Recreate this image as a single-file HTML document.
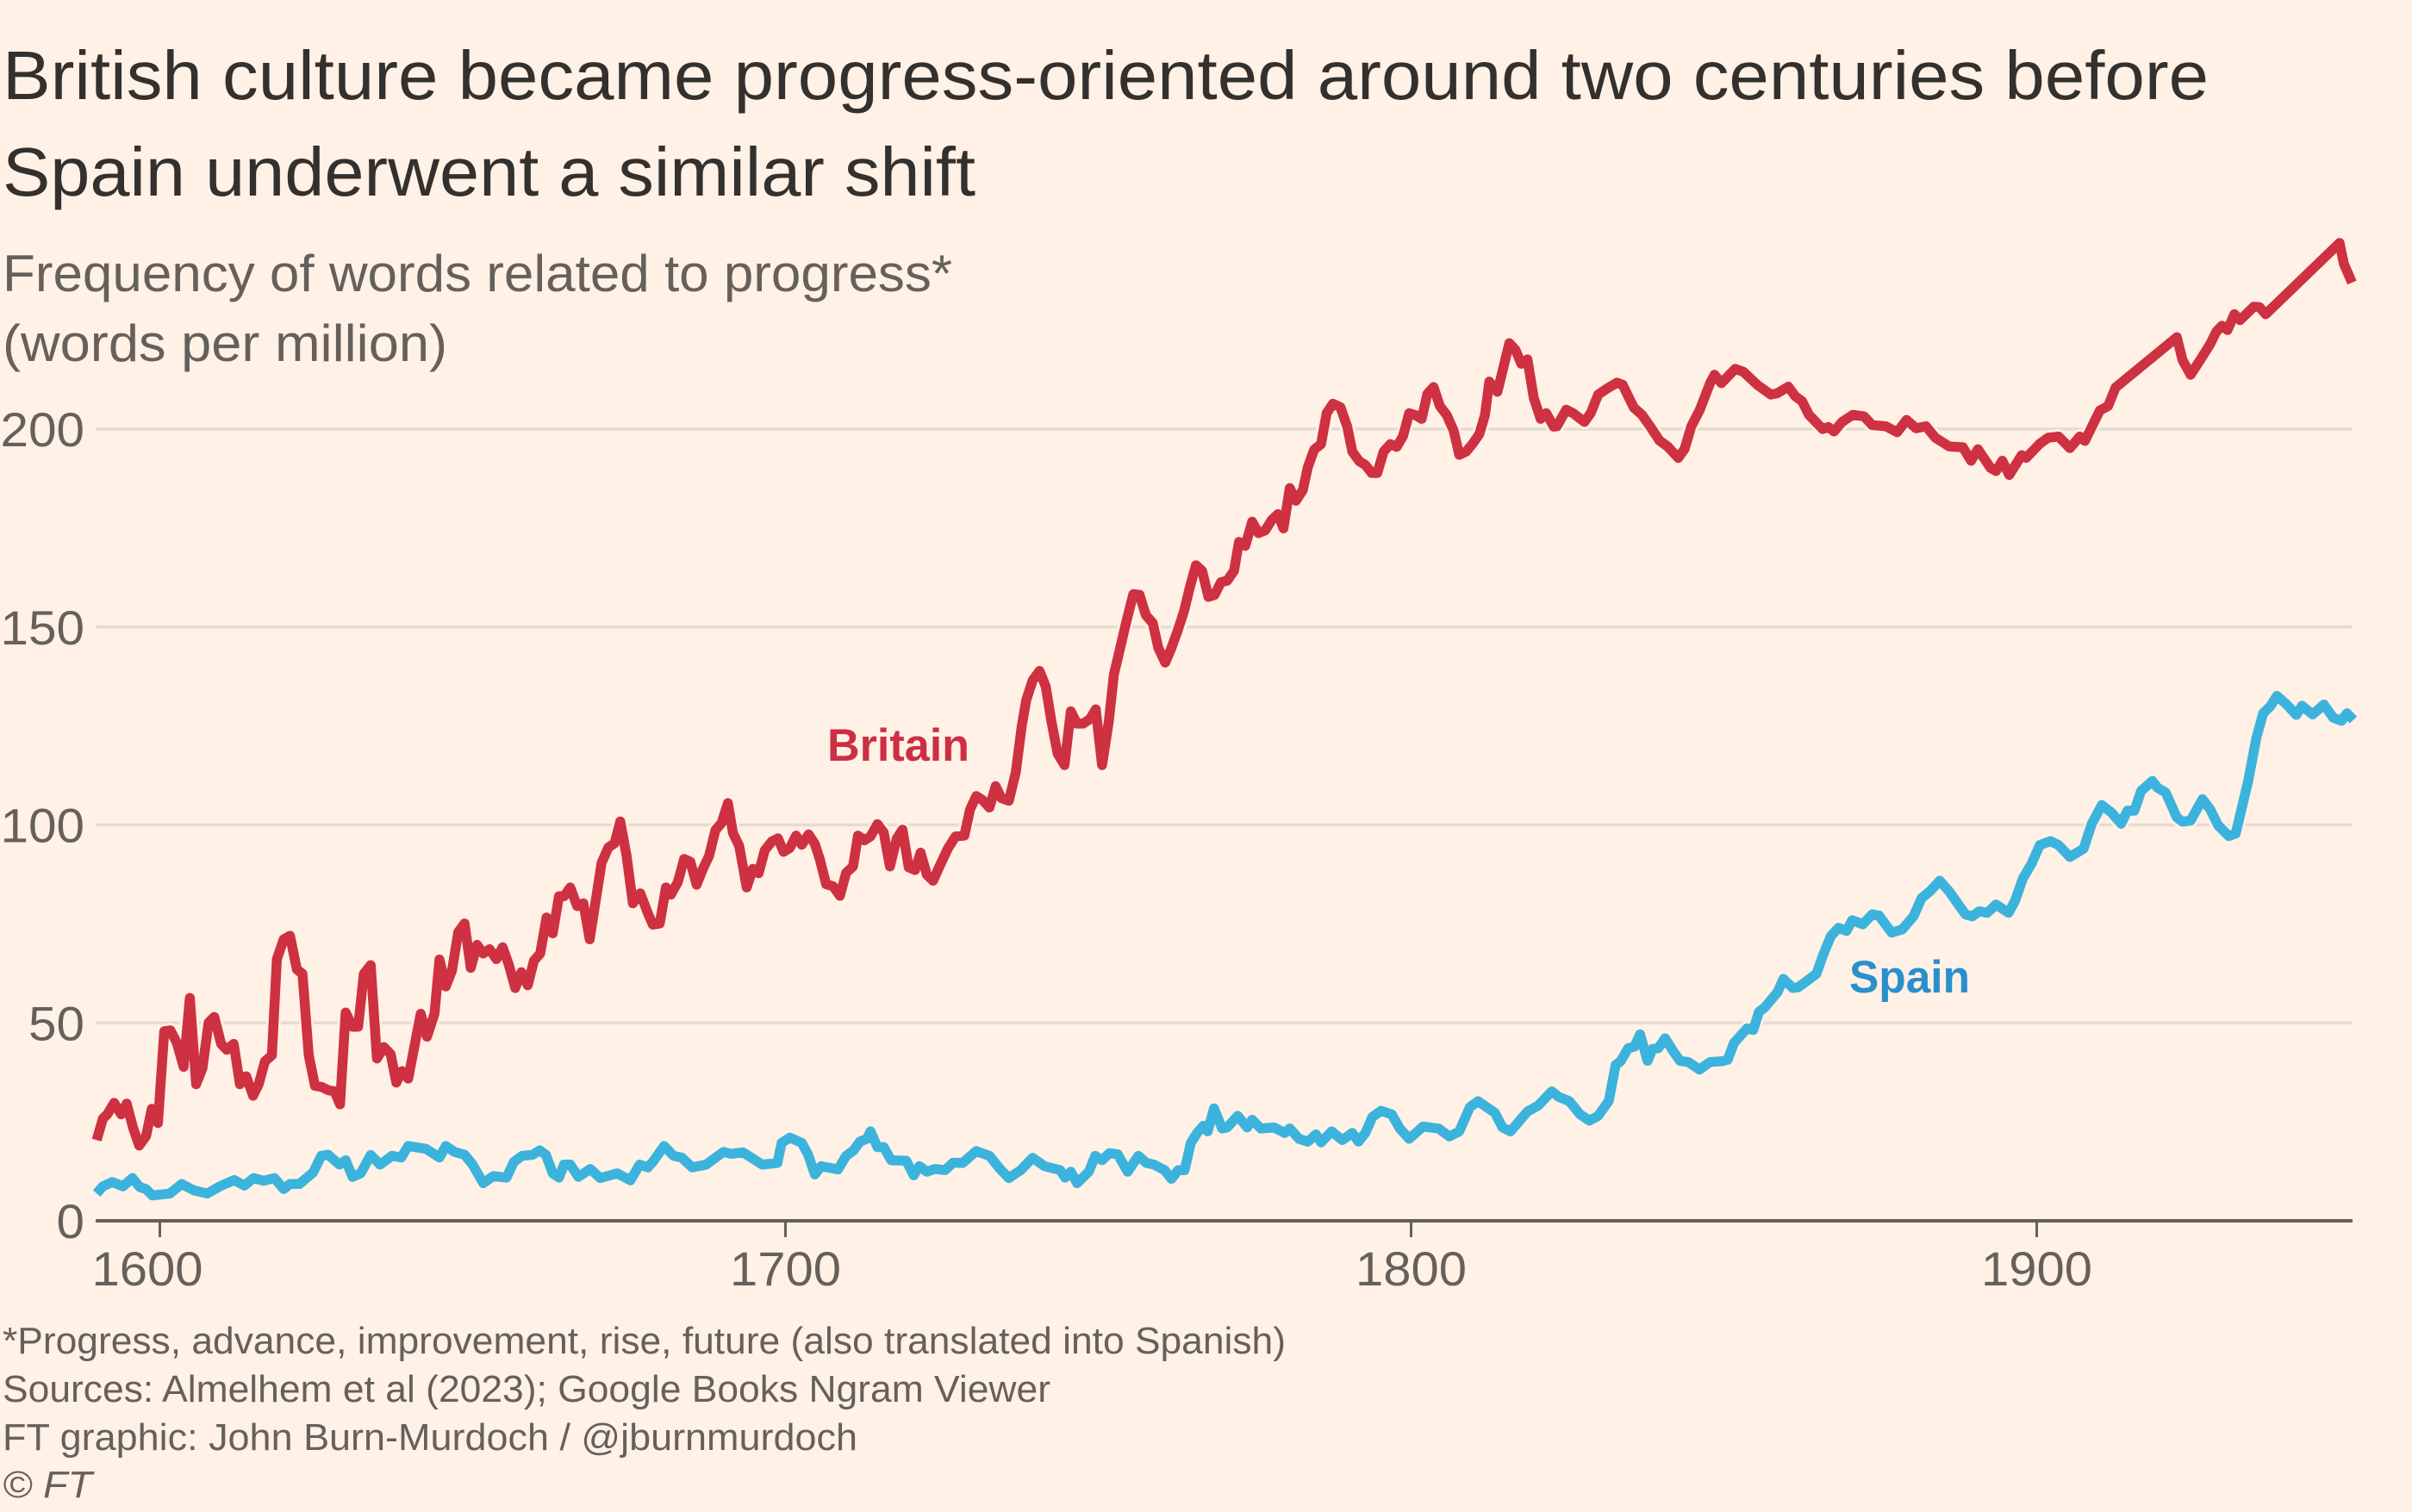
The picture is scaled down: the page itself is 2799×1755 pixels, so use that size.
<!DOCTYPE html>
<html lang="en">
<head>
<meta charset="utf-8">
<title>British culture became progress-oriented</title>
<style>
html,body{margin:0;padding:0;background:#fff1e5;}
svg{display:block;}
text{font-family:"Liberation Sans",sans-serif;}
</style>
</head>
<body>
<svg id="chart" xmlns="http://www.w3.org/2000/svg" width="2799" height="1755" viewBox="0 0 2799 1755">
  <rect x="0" y="0" width="2799" height="1755" fill="#fff1e5"/>
  <text x="3" y="115" font-size="80" fill="#33302e" textLength="2560" lengthAdjust="spacingAndGlyphs">British culture became progress-oriented around two centuries before</text>
  <text x="3" y="227" font-size="80" fill="#33302e" textLength="1129" lengthAdjust="spacingAndGlyphs">Spain underwent a similar shift</text>
  <text x="3" y="338" font-size="60" fill="#66605c" textLength="1102" lengthAdjust="spacingAndGlyphs">Frequency of words related to progress*</text>
  <text x="3" y="419" font-size="60" fill="#66605c" textLength="516" lengthAdjust="spacingAndGlyphs">(words per million)</text>
  <g id="grid"></g>
  <g id="yLabels"></g>
  <g id="series"></g>
  <g id="xAxis"></g>
  <text x="960" y="883" font-size="53" font-weight="bold" fill="#cc2f43" textLength="165" lengthAdjust="spacingAndGlyphs">Britain</text>
  <text x="2146" y="1152" font-size="53" font-weight="bold" fill="#2a8fcd" textLength="140" lengthAdjust="spacingAndGlyphs">Spain</text>
  <text x="3" y="1571" font-size="44" fill="#66605c" textLength="1489" lengthAdjust="spacingAndGlyphs">*Progress, advance, improvement, rise, future (also translated into Spanish)</text>
  <text x="3" y="1627" font-size="44" fill="#66605c" textLength="1216" lengthAdjust="spacingAndGlyphs">Sources: Almelhem et al (2023); Google Books Ngram Viewer</text>
  <text x="3" y="1683" font-size="44" fill="#66605c" textLength="992" lengthAdjust="spacingAndGlyphs">FT graphic: John Burn-Murdoch / @jburnmurdoch</text>
  <text x="3" y="1738" font-size="44" font-style="italic" fill="#66605c" textLength="104" lengthAdjust="spacingAndGlyphs">© FT</text>
</svg>
<script>
const yTickValues = [0, 50, 100, 150, 200];
const yTickLabels = ["0", "50", "100", "150", "200"];
const xTickValues = [1600, 1700, 1800, 1900];
const xTickLabels = ["1600", "1700", "1800", "1900"];

const britainYears = [
1589.9,1590.9,1591.6,1592.7,1593.8,1594.7,1595.7,1596.7,1597.8,1598.7,
1599.7,1600.7,1601.7,1602.7,1603.8,1604.8,1605.8,1606.8,1607.8,1608.7,
1609.8,1610.7,1611.8,1612.8,1613.8,1614.9,1615.8,1616.8,1617.9,1618.7,
1619.8,1620.8,1621.9,1622.8,1623.8,1624.8,1625.9,1626.9,1627.9,1628.8,
1629.7,1630.8,1631.7,1632.6,1633.7,1634.7,1635.8,1636.9,1637.8,1638.7,
1639.7,1641.7,1642.7,1643.9,1644.7,1645.7,1646.7,1647.7,1648.7,1649.7,
1650.7,1651.7,1652.7,1653.8,1654.8,1655.8,1656.8,1657.8,1658.8,1659.8,
1660.8,1661.8,1662.8,1663.8,1664.6,1665.6,1666.7,1667.7,1668.7,1670.6,
1671.7,1672.7,1673.6,1674.6,1675.6,1676.8,1678,1678.8,1679.9,1680.9,
1681.7,1682.8,1683.8,1684.8,1685.8,1686.8,1687.8,1688.8,1689.8,1690.8,
1691.6,1692.6,1693.8,1694.8,1695.7,1696.7,1697.8,1698.8,1699.7,1700.7,
1701.7,1702.6,1703.7,1704.7,1705.5,1706.5,1707.6,1708.7,1709.7,1710.8,
1711.6,1712.6,1713.6,1714.7,1715.7,1716.7,1717.8,1718.7,1719.7,1720.7,
1721.6,1722.6,1723.6,1724.7,1726,1727.2,1728.6,1729.5,1730.5,1731.5,
1732.6,1733.6,1734.5,1735.7,1736.8,1737.8,1738.5,1739.5,1740.6,1741.6,
1742.5,1743.5,1744.6,1745.6,1746.6,1747.6,1748.7,1749.6,1750.6,1751.7,
1752.5,1753.5,1754.5,1755.6,1756.6,1757.6,1758.7,1759.6,1760.7,1761.6,
1762.7,1763.7,1764.6,1765.6,1766.6,1767.6,1768.6,1769.6,1770.6,1771.7,
1772.5,1773.5,1774.6,1775.6,1776.7,1777.7,1778.7,1779.6,1780.6,1781.6,
1782.7,1783.5,1784.5,1785.6,1786.5,1787.5,1788.7,1789.8,1790.6,1791.7,
1792.7,1793.7,1794.6,1795.6,1796.7,1797.7,1798.7,1799.7,1800.7,1801.7,
1802.6,1803.6,1804.6,1805.7,1806.8,1807.7,1808.8,1809.8,1810.9,1811.8,
1812.5,1813.8,1814.7,1815.7,1816.7,1817.6,1818.6,1819.6,1820.7,1821.6,
1822.8,1823.3,1824.8,1825.9,1827.7,1828.7,1829.9,1831.2,1832.9,1833.8,
1835.6,1836.9,1838.2,1839.7,1841,1842.7,1843.7,1844.8,1846.1,1847.8,
1848.5,1849.6,1850.9,1851.8,1853.1,1855.3,1857.5,1858.5,1860.3,1861.4,
1862.5,1863.6,1865.8,1866.7,1867.6,1868.9,1870.6,1872.4,1873.7,1875.9,
1877.7,1879.2,1880.7,1882.3,1883.8,1886,1888.2,1889.5,1890.6,1892.6,
1893.5,1894.5,1895.6,1897.6,1898.3,1900.5,1901.8,1903.5,1905.3,1906.9,
1907.7,1910.1,1911.4,1912.6,1922.4,1923.3,1924.6,1926.4,1927.7,1928.7,
1929.6,1930.5,1931.6,1932.5,1934.7,1935.6,1936.6,1948.4,1949.1,1950.4
];
const britainValues = [
20.4,25.8,26.9,29.8,26.9,29.6,23.6,19,21.4,28.3,
24.7,47.9,48.1,45,38.9,56.3,34.5,38.5,50.1,51.5,
44.7,43.2,44.7,34.5,36.5,31.6,34.5,40.3,41.8,66.1,
71.1,72,63.5,62.4,41.8,34.1,33.8,33,32.7,29.4,
52.6,49,49,62.4,64.6,41,43.9,42.1,34.9,37.8,
35.9,52.3,46.5,52.3,66,59.2,63.2,72.9,75.1,63.9,
69.7,67.5,68.6,66.1,69.1,64.6,58.8,62.8,59.5,65.7,
67.5,76.6,72.6,82,82,84.2,79.5,80.2,71.1,90.4,
94.3,95.4,100.9,92.2,80.2,82.7,77.7,74.8,75.1,84.2,
82.4,85.6,91.4,90.7,84.9,88.9,92.2,98.7,100.5,105.5,
98,94.7,84.2,88.9,87.8,93.6,95.8,96.6,93.2,94.2,
97.3,95,97.6,95.2,91.3,85,84.5,82.1,87.9,89.5,
97.3,96.1,97.1,100.2,98.1,89.5,96.6,98.8,89.3,88.6,
93,87.4,85.9,89.8,94.2,97.1,97.3,103.9,107.3,106.3,
104.4,109.8,106.8,106.1,113.2,125.3,131.6,136.5,138.9,135,
126.3,118,115.1,128.7,125.6,125.6,126.8,129.2,115.1,126.3,
138,144.7,151.5,158.3,158.1,153,151,144.7,141,144.3,
149.1,154,159.8,165.6,164.2,157.6,158.1,161.3,161.7,164.2,
171.5,170.5,176.6,173.7,174.4,177,178.5,174.9,185.1,181.9,
184.6,190.4,194.8,196.2,204,206.4,205.5,200.6,194.3,191.9,
190.9,188.9,188.9,194.3,196.2,195.5,198.2,204,203.5,202.6,
208.9,210.6,205.8,203.5,199.6,193.5,194.3,196.2,198.7,203.5,
212,209.4,215.2,221.7,220,216.5,217.6,207.9,202.6,204,
200.6,200.7,204.9,204,201.8,204,208.7,210.1,211.7,211.2,
205.4,203.6,200.7,197.1,195.6,192.7,194.9,200.7,204.7,211.6,
213.7,211.6,213.7,215.2,214.5,211.2,208.7,209,210.7,208.3,
207,203.6,200,200.5,199.4,201.8,203.6,203.2,201,200.7,
199.2,202.3,200.2,200.7,197.8,195.6,195.4,192,194.9,190.2,
189.4,192,188.4,193.4,192.7,196.3,197.8,198.1,195.2,198.1,
197,204.7,205.8,210.5,223.2,217.4,213.7,218.1,221.4,224.6,
226.1,225,229,227.5,230.9,230.8,229,247,241.7,237
];

const spainYears = [
1589.9,1590.9,1592.4,1594.1,1595.6,1596.8,1597.8,1598.8,1601.6,1603.5,
1605.4,1607.6,1609.6,1611.9,1613.5,1615,1616.6,1618.3,1619.8,1620.8,
1622.3,1624.5,1625.8,1626.9,1628.7,1629.7,1630.8,1632.1,1633.7,1635.2,
1637.1,1638.6,1639.7,1642.5,1644.7,1645.7,1647.1,1648.7,1650,1651.7,
1653.3,1655.4,1656.6,1657.9,1659.6,1660.7,1661.7,1662.8,1663.8,1664.6,
1665.6,1666.9,1668.8,1670.4,1673.1,1675.2,1676.7,1678,1678.8,1680.6,
1682.1,1683.4,1685.1,1687.3,1690.1,1691.3,1693.2,1696.3,1698.7,1699.4,
1700.7,1702.6,1703.6,1704.7,1705.7,1708.4,1709.7,1710.9,1711.9,1713,
1713.6,1714.7,1715.7,1716.9,1719.3,1720.5,1721.4,1722.6,1723.9,1725.5,
1726.8,1728.3,1730.5,1732.6,1734.3,1735.7,1737.6,1739.5,1741.4,1743.9,
1744.7,1745.6,1746.6,1748.5,1749.5,1750.6,1751.8,1753.1,1754.7,1756.4,
1757.7,1758.9,1760.6,1761.7,1762.8,1763.8,1764.8,1765.8,1766.8,1767.5,
1768.5,1769.8,1770.6,1772.3,1773.8,1774.6,1776,1778.1,1779.8,1780.6,
1782.1,1783.5,1784.8,1785.6,1787.3,1789,1790.6,1791.6,1792.7,1793.8,
1795.2,1796.9,1798.2,1799.7,1801.9,1804.4,1806.1,1807.7,1809.4,1810.7,
1813.4,1814.6,1815.9,1818.6,1820.3,1822.5,1823.6,1825.3,1827,1828.5,
1829.9,1831.6,1832.7,1833.5,1834.7,1835.7,1836.6,1837.8,1838.6,1839.5,
1840.6,1841.9,1843,1844.3,1846.1,1847.8,1849.6,1850.6,1851.6,1853.7,
1854.7,1855.6,1856.6,1857.9,1858.6,1859.5,1861,1861.9,1864.8,1865.8,
1867.1,1868.3,1869.6,1870.5,1872.2,1873.7,1874.8,1876.8,1878.5,1880.3,
1881.6,1882.9,1884.5,1886,1887.3,1888.6,1889.7,1890.8,1892.1,1893.5,
1895.5,1896.5,1897.8,1899.2,1900.5,1902.2,1903.5,1905.3,1907.5,1908.8,
1910.4,1911.9,1913.5,1914.5,1915.6,1916.7,1918.5,1919.3,1920.6,1922.4,
1923.3,1924.6,1926.5,1927.7,1929,1930.7,1931.8,1933.8,1935.1,1936.2,
1937.3,1938.4,1939.9,1941.5,1942.4,1944.1,1945.9,1947.4,1948.7,1949.6,
1950.6
];
const spainValues = [
6.9,8.7,9.8,8.7,10.8,8.5,8,6.4,6.9,9.3,
7.7,6.9,8.7,10.3,8.9,10.8,10.1,10.8,8,9.3,
9.3,12.2,16.4,16.7,14.2,15.3,11.1,12,16.6,14.2,
16.4,16,18.9,18.2,16,18.9,17.4,16.7,14.2,9.5,
11.3,10.9,14.9,16.4,16.7,17.8,16.7,12,10.9,14.2,
14.2,11.1,13.1,10.8,12,10.2,14.2,13.5,14.9,18.9,
16.4,16,13.5,14.2,17.4,16.9,17.3,14.2,14.6,19.7,
21,19.7,16.8,11.7,13.8,13,16.4,17.8,20,20.7,
22.6,18.6,18.6,15.3,15.2,11.5,13.8,12.4,13.1,12.8,
14.7,14.6,17.6,16.4,13.1,10.8,12.8,15.9,13.8,12.8,
10.9,12.4,9.5,12.4,16.4,15.3,17.1,16.8,12.4,16.4,
14.6,14.2,12.8,10.6,12.8,12.8,19.7,22.2,24,22.6,
28.4,23.3,23.6,26.5,23.6,25.5,23.3,23.6,22.2,23.3,
20.7,20,21.8,19.8,22.6,20.4,22.2,20,22.2,26.2,
27.8,26.9,23.3,20.7,23.8,23.3,21.3,22.6,28.7,30.2,
27.3,23.6,22.6,27.6,29.1,32.7,31.3,30.2,26.9,25.3,
26.5,30.3,39.4,40.3,43.6,44,47.1,40.4,43.4,43.6,
46.1,42.8,40.4,40.1,38.2,40.1,40.3,40.7,44.9,48.6,
48.2,52.8,54,56.5,57.8,61.1,58.8,59,62.4,66.9,
71.9,74,73.2,75.9,74.9,77.4,77.1,72.8,73.6,76.9,
81.5,83.2,85.9,83.2,80.3,77.4,76.9,78.2,77.8,79.9,
77.8,80.7,86.5,90.3,94.9,95.9,94.9,91.9,94,100.3,
105,103.2,100.3,103.6,103.6,108.6,111.1,109.4,108.2,101.9,
100.8,101.1,106.5,104,99.9,97.2,97.8,111.1,121.9,128.2,
129.9,132.6,130.5,127.8,130.1,127.9,130.4,127.1,126.3,128.2,
126.5
];

const SVGNS = "http://www.w3.org/2000/svg";
const plotLeft = 111, plotRight = 2730;
function xScale(year) { return 185.5 + (year - 1600) * 7.26; }
function yScale(value) { return 1417 - value * 4.595; }
function buildPath(years, values) {
  let d = "";
  const n = Math.min(years.length, values.length);
  for (let i = 0; i < n; i++) {
    d += (i === 0 ? "M" : "L") + xScale(years[i]).toFixed(1) + " " + yScale(values[i]).toFixed(1);
  }
  return d;
}
function make(tag, attrs) {
  const el = document.createElementNS(SVGNS, tag);
  Object.keys(attrs).forEach(function (k) { el.setAttribute(k, attrs[k]); });
  return el;
}

const grid = document.getElementById("grid");
const yLabels = document.getElementById("yLabels");
yTickValues.forEach(function (v, i) {
  if (v !== 0) {
    const line = make("line", {x1: plotLeft, x2: plotRight, y1: yScale(v), y2: yScale(v), stroke: "#e7dbd0", "stroke-width": 3.5});
    
    
    grid.appendChild(line);
  }
  const t = make("text", {x: 98, y: yScale(v) + 20, "font-size": 56, fill: "#66605c", "text-anchor": "end", textLength: yTickLabels[i].length * 32.5, lengthAdjust: "spacingAndGlyphs"});
  
  
  t.textContent = yTickLabels[i];
  yLabels.appendChild(t);
});

const series = document.getElementById("series");
function addSeries(name, years, values, color) {
  const d = buildPath(years, values);
  const halo = make("path", {d: d, fill: "none", stroke: "#fff1e5", "stroke-width": 17, "stroke-linejoin": "round"});
  
  
  series.appendChild(halo);
  const line = make("path", {d: d, fill: "none", stroke: color, "stroke-width": 11.5, "stroke-linejoin": "round", "stroke-linecap": "butt"});
  
  
  series.appendChild(line);
}
addSeries("spain", spainYears, spainValues, "#3cb3dc");
addSeries("britain", britainYears, britainValues, "#ce3142");

const xAxis = document.getElementById("xAxis");
const axisLine = make("line", {x1: plotLeft, x2: plotRight, y1: 1417, y2: 1417, stroke: "#66605c", "stroke-width": 4});


xAxis.appendChild(axisLine);
xTickValues.forEach(function (yr, i) {
  const x = xScale(yr);
  const tick = make("line", {x1: x, x2: x, y1: 1417, y2: 1436, stroke: "#66605c", "stroke-width": 3});
  
  
  xAxis.appendChild(tick);
  const t = make("text", {x: i === 0 ? x - 14.5 : x, y: 1492, "font-size": 56, fill: "#66605c", "text-anchor": "middle", textLength: 129, lengthAdjust: "spacingAndGlyphs"});
  
  
  t.textContent = xTickLabels[i];
  xAxis.appendChild(t);
});
</script>
</body>
</html>
